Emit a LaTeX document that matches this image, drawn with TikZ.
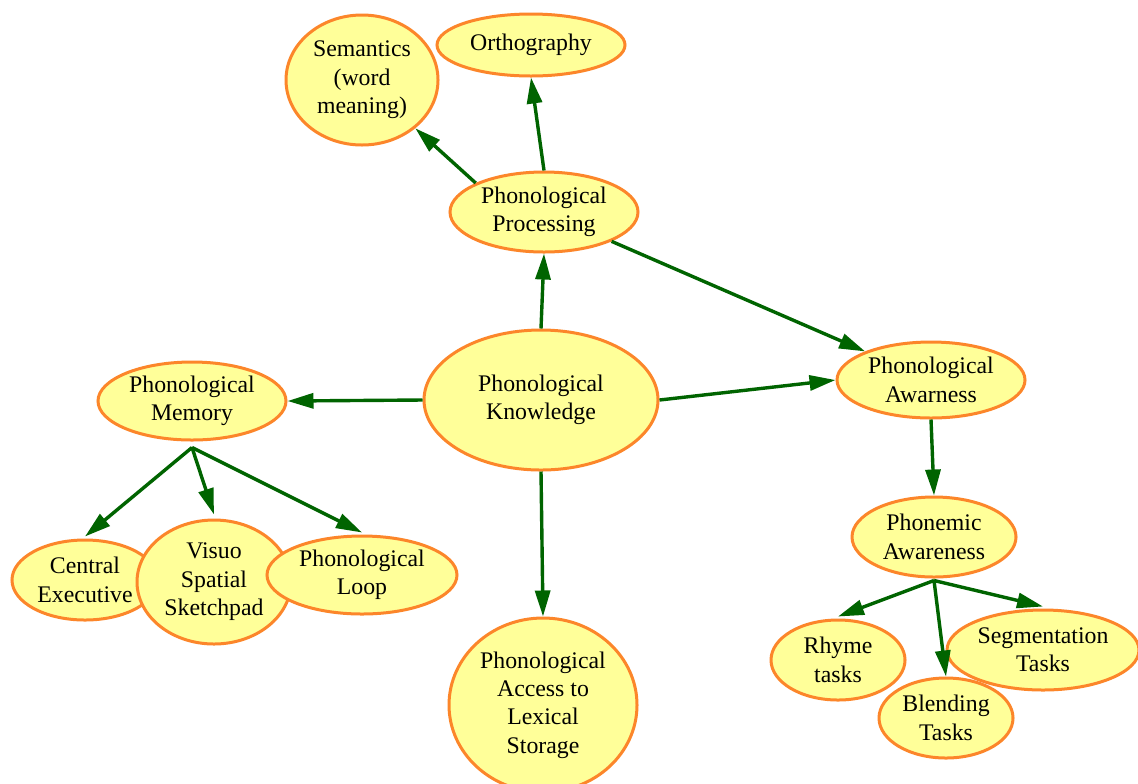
\documentclass[tikz,border=0pt]{standalone}
\usepackage{fontspec}
\setmainfont{Liberation Serif}
\usetikzlibrary{shapes.geometric,arrows.meta}
\definecolor{nodefill}{RGB}{255,255,153}
\definecolor{nodeline}{RGB}{252,134,42}
\definecolor{edgegreen}{RGB}{0,100,0}
\tikzset{
  bubble/.style={ellipse, draw=nodeline, fill=nodefill, line width=1.5pt, inner sep=0pt,
    align=center, font=\fontsize{11.9pt}{14.2pt}\selectfont},
  link/.style={draw=edgegreen, line width=1.7pt, -{Triangle[length=13pt,width=7.5pt]}}
}
\begin{document}
\begin{tikzpicture}[x=0.5pt,y=-0.5pt]
\clip (0,0) rectangle (1138,783);
\fill[white] (0,0) rectangle (1138,783);
% nodes
\node[bubble, minimum width=76pt, minimum height=65pt] (sem) at (362,80) {Semantics\\(word\\meaning)};
\node[bubble, minimum width=94pt, minimum height=31pt] (orth) at (531,45) {Orthography};
\node[bubble, minimum width=94pt, minimum height=40pt] (proc) at (544,212) {Phonological\\Processing};
\node[bubble, minimum width=117pt, minimum height=70pt] (know) at (541,400) {Phonological\\Knowledge};
\node[bubble, minimum width=94pt, minimum height=39pt] (mem) at (192,401) {Phonological\\Memory};
\node[bubble, minimum width=94pt, minimum height=38pt] (aw) at (931,380) {Phonological\\Awarness};
\node[bubble, minimum width=82pt, minimum height=40pt] (phm) at (934,537) {Phonemic\\Awareness};
\node[bubble, minimum width=73pt, minimum height=40pt] (ce) at (85,580) {Central\\Executive};
\node[bubble, minimum width=77pt, minimum height=62pt] (vis) at (214,582) {Visuo\\Spatial\\Sketchpad};
\node[bubble, minimum width=95pt, minimum height=39pt] (loop) at (362,575) {Phonological\\Loop};
\node[bubble, minimum width=94pt, minimum height=87pt] (acc) at (543,705) {Phonological\\Access to\\Lexical\\Storage};
\node[bubble, minimum width=67pt, minimum height=40pt] (rhyme) at (838,660) {Rhyme\\tasks};
\node[bubble, minimum width=67pt, minimum height=40pt] (blend) at (946,718) {Blending\\Tasks};
\node[bubble, minimum width=96pt, minimum height=40pt] (seg) at (1043,650) {Segmentation\\Tasks};
% edges
\draw[link] (know.north) -- (proc.south);
\draw[link] (proc.north) -- (orth.south);
\draw[link] (proc.157) -- (sem);
\draw[link] (proc) -- (aw);
\draw[link] (know.east) -- (aw.west);
\draw[link] (know.west) -- (mem.east);
\draw[link] (know.south) -- (acc.north);
\draw[link] (aw.south) -- (phm.north);
\draw[link] ([yshift=-3pt]mem.south) -- ([yshift=1pt]ce.north);
\draw[link] ([yshift=-3pt]mem.south) -- ([yshift=2pt]vis.north);
\draw[link] ([yshift=-3pt]mem.south) -- ([yshift=1pt]loop.north);
\draw[link] ([yshift=-1pt]phm.south) -- ([yshift=1pt]rhyme.north);
\draw[link] ([yshift=-1pt]phm.south) -- (blend.north);
\draw[link] ([yshift=-1pt]phm.south) -- ([yshift=1pt]seg.north);
\end{tikzpicture}
\end{document}
